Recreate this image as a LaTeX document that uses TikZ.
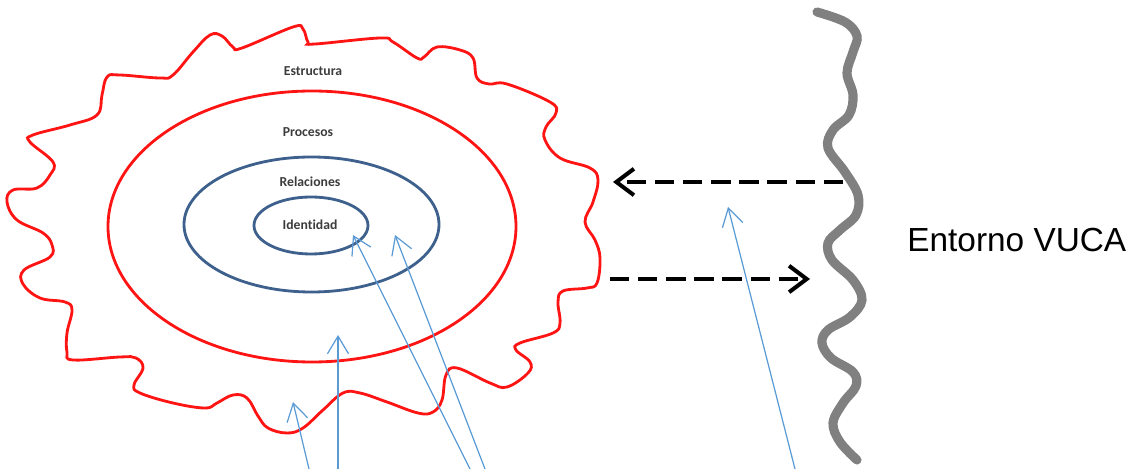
\documentclass[tikz,border=0pt]{standalone}
\usepackage{fontspec}
\setmainfont{Liberation Sans}
\newfontfamily\labfont[Ligatures=NoCommon]{Carlito}
\usetikzlibrary{arrows.meta}

\definecolor{ringred}{RGB}{255,20,20}
\definecolor{ringblue}{RGB}{62,96,140}
\definecolor{arrblue}{RGB}{91,155,213}
\definecolor{edgegray}{RGB}{128,128,128}
\definecolor{labgray}{RGB}{60,60,60}

\begin{document}
\begin{tikzpicture}[
  x=0.02cm, y=-0.02cm,
  redring/.style  = {draw=ringred, line width=1.6pt},
  bluering/.style = {draw=ringblue, line width=1.6pt},
  lab/.style      = {font=\labfont\fontsize{7.8}{9}\selectfont\bfseries, text=labgray, inner sep=0},
  big/.style      = {font=\fontsize{19}{22}\selectfont, inner sep=0},
  arr/.style      = {-{Straight Barb[length=10pt, width=12pt]}, arrblue, line width=0.7pt},
  flow/.style     = {-{Straight Barb[length=10pt, width=15pt]}, line width=2.3pt,
                     dash pattern=on 11pt off 5pt},
  edge/.style     = {draw=edgegray, line width=5.2pt, line cap=round}
]
\useasboundingbox (0,0) rectangle (1127,469);

% ================= organisation =================
\draw[redring] plot[smooth cycle, tension=0.65] coordinates {
  (17,220) (7,202) (13,190) (37,188) (50,175) (53,162) (30,142) (33,135)
  (70,125) (97,115) (102,95) (107,77) (120,75) (160,78) (173,75) (193,52)
  (210,35) (222,36) (233,47) (242,48) (293,27) (303,29) (308,42) (315,44)
  (380,38) (393,42) (417,58) (424,57) (437,47) (460,50) (473,58) (477,78)
  (489,84) (507,84) (550,102) (556,113) (546,127) (545,140) (560,158)
  (590,168) (598,180) (593,202) (585,222) (595,240) (600,258) (597,283)
  (587,288) (563,291) (558,302) (560,323) (553,333) (520,343) (516,350)
  (530,362) (528,373) (507,387) (490,383) (457,368) (446,375) (442,400)
  (433,412) (418,413) (387,402) (360,393) (343,393) (323,410) (303,428)
  (287,433) (268,428) (258,416) (247,398) (233,395) (217,403) (205,408)
  (173,403) (140,393) (134,385) (143,368) (136,358) (120,357) (73,360)
  (67,352) (67,333) (72,310) (65,302) (40,298) (23,284) (24,270) (50,257)
  (52,245) (43,233)};

\draw[redring]  (312,226.5) ellipse [x radius=204, y radius=135.5];
\draw[bluering] (311.5,224.5) ellipse [x radius=127.5, y radius=67.5];
\draw[bluering] (311,225.5) ellipse [x radius=57, y radius=28.5];

\node[lab] (estr) at (313,71)  {Estructura};
\node[lab] (proc) at (308,132) {Procesos};
\node[lab] (rel)  at (310,182) {Relaciones};
\node[lab] (iden) at (310,225) {Identidad};

% ================= environment =================
\draw[edge] plot[smooth, tension=0.6] coordinates {
  (817,12) (845,22) (857,36) (853,52) (847,73) (853,95) (849,115) (833,130)
  (828,148) (845,172) (858,195) (856,215) (840,230) (828,243) (832,260)
  (853,280) (862,300) (850,317) (828,330) (822,343) (831,358) (853,372)
  (856,386) (843,403) (833,423) (840,442) (857,460)};

\node[big, anchor=west] (vuca) at (907,240) {Entorno VUCA};

% ================= exchanges =================
\coordinate (inS)  at (843,182);
\coordinate (inE)  at (613,182);
\coordinate (outS) at (610,279);
\coordinate (outE) at (810,279);
\draw[flow] (inS) -- (inE);
\draw[flow] (outS) -- (outE);

% ================= pointers =================
\coordinate (p1) at (309,469);  \coordinate (t1) at (293,402);
\coordinate (p2) at (338,469);  \coordinate (t2) at (338,335);
\coordinate (p3) at (470,469);  \coordinate (t3) at (353,235);
\coordinate (p4) at (485,469);  \coordinate (t4) at (395,235);
\coordinate (p5) at (795,469);  \coordinate (t5) at (728,207);
\foreach \i in {1,...,5}
  \draw[arr] (p\i) -- (t\i);

\end{tikzpicture}
\end{document}
